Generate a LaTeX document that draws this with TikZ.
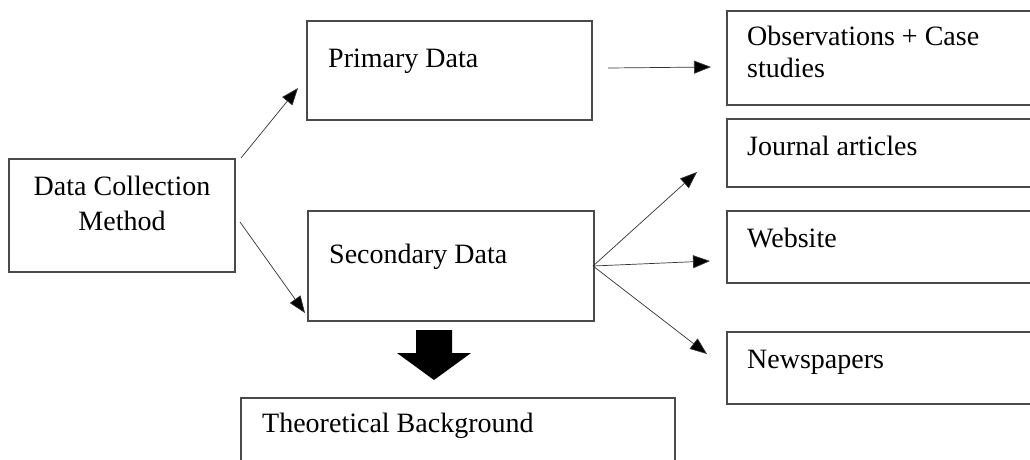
\documentclass[tikz,border=0pt]{standalone}
\usepackage{fontspec}
\setmainfont{Liberation Serif}
\usetikzlibrary{arrows.meta}
\definecolor{boxline}{HTML}{4A4A4A}
\tikzset{
  box/.style={draw=boxline, line width=1.1pt, inner sep=0pt},
  lbl/.style={inner sep=0pt, font=\fontsize{28}{32}\selectfont},
  conn/.style={draw=black!80, line width=0.7pt, -{Triangle[length=17pt,width=13pt,fill=black]}},
}
\begin{document}
\begin{tikzpicture}[x=1pt,y=-1pt]
\clip (0,0) rectangle (1030,459);
\fill[white] (0,0) rectangle (1030,459);
% boxes
\node[box, minimum width=226pt, minimum height=113pt] (dcm) at (122,215.5) {};
\node[box, minimum width=285pt, minimum height=99pt] (prim) at (449.5,70.5) {};
\node[box, minimum width=286pt, minimum height=110pt] (sec) at (451,266) {};
\node[box, minimum width=320pt, minimum height=94pt] (obs) at (887,58) {};
\node[box, minimum width=320pt, minimum height=68pt] (jour) at (887,153) {};
\node[box, minimum width=320pt, minimum height=72pt] (web) at (887,247) {};
\node[box, minimum width=320pt, minimum height=72pt] (news) at (887,368) {};
\node[box, minimum width=434pt, minimum height=90pt] (theo) at (458,443) {};
% labels
\node[lbl, align=center, anchor=base, font=\fontsize{28}{35}\selectfont] (dcmt) at (122,230) {Data Collection\\Method};
\node[lbl, anchor=base west] (primt) at (328,67) {Primary Data};
\node[lbl, anchor=base west] (sect) at (329,263) {Secondary Data};
\node[lbl, anchor=base west, align=left] (obst) at (747,77) {Observations + Case\\studies};
\node[lbl, anchor=base west] (journt) at (747,155) {Journal articles};
\node[lbl, anchor=base west] (webt) at (747,247) {Website};
\node[lbl, anchor=base west] (newst) at (747,368) {Newspapers};
\node[lbl, anchor=base west] (theot) at (262,432) {Theoretical Background};
% connector endpoints
\coordinate (a1s) at (241,158);
\coordinate (a1e) at (298,88);
\coordinate (a2s) at (240,222);
\coordinate (a2e) at (305,313);
\coordinate (a3s) at (608,68);
\coordinate (a3e) at (711,67);
\coordinate (fan) at (593,266);
\coordinate (a4e) at (697,172);
\coordinate (a5e) at (710,261);
\coordinate (a6e) at (707,354);
\draw[conn] (a1s) -- (a1e);
\draw[conn] (a2s) -- (a2e);
\draw[conn] (a3s) -- (a3e);
\draw[conn] (fan) -- (a4e);
\draw[conn] (fan) -- (a5e);
\draw[conn] (fan) -- (a6e);
% block arrow
\fill[black] (416,330) -- (452,330) -- (452,353) -- (471,353) -- (434,380) -- (397,353) -- (416,353) -- cycle;
\end{tikzpicture}
\end{document}
